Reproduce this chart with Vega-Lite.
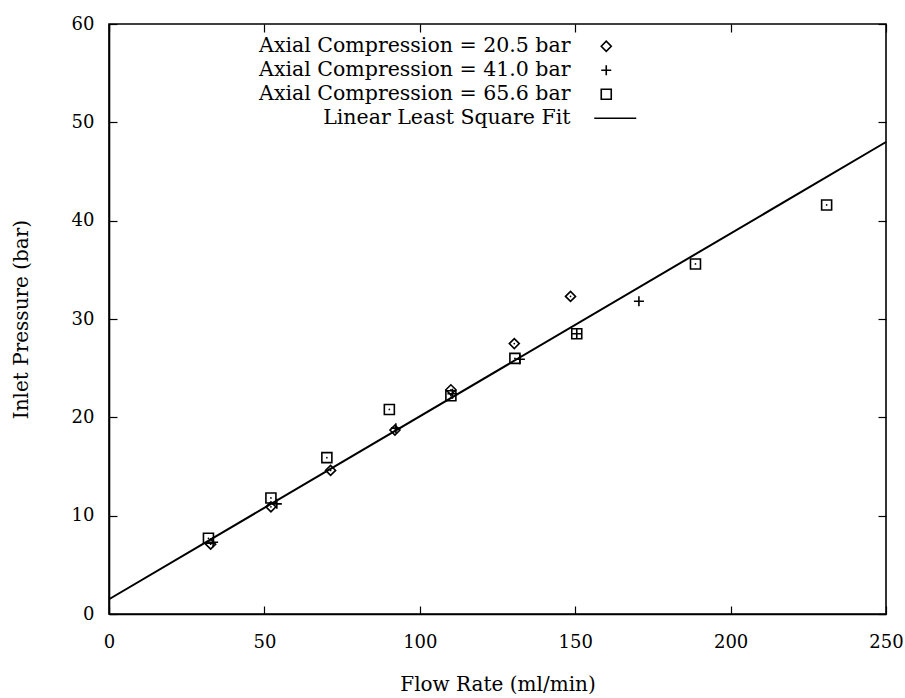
{
  "$schema": "https://vega.github.io/schema/vega-lite/v6.json",
  "width": 777,
  "height": 590,
  "autosize": {"type": "none"},
  "padding": {"left": 109, "top": 24, "right": 19, "bottom": 84},
  "background": "white",
  "config": {
    "view": {"stroke": "black", "strokeWidth": 1.6},
    "font": "DejaVu Serif",
    "axis": {
      "grid": false,
      "domainColor": "black",
      "domainWidth": 1.6,
      "tickColor": "black",
      "tickWidth": 1.2,
      "tickSize": -8,
      "labelFont": "DejaVu Serif",
      "labelFontSize": 18,
      "labelColor": "black",
      "labelFlush": false,
      "labelOverlap": false,
      "titleFont": "DejaVu Serif",
      "titleFontSize": 20,
      "titleFontWeight": "normal",
      "titleColor": "black"
    }
  },
  "datasets": {
    "points": [
      {"flow": 32.7, "pressure": 7.1, "series": "Axial Compression = 20.5 bar"},
      {"flow": 52.1, "pressure": 10.9, "series": "Axial Compression = 20.5 bar"},
      {"flow": 71.3, "pressure": 14.6, "series": "Axial Compression = 20.5 bar"},
      {"flow": 92.0, "pressure": 18.7, "series": "Axial Compression = 20.5 bar"},
      {"flow": 110.0, "pressure": 22.8, "series": "Axial Compression = 20.5 bar"},
      {"flow": 130.4, "pressure": 27.5, "series": "Axial Compression = 20.5 bar"},
      {"flow": 148.5, "pressure": 32.3, "series": "Axial Compression = 20.5 bar"},
      {"flow": 33.5, "pressure": 7.3, "series": "Axial Compression = 41.0 bar"},
      {"flow": 54.0, "pressure": 11.2, "series": "Axial Compression = 41.0 bar"},
      {"flow": 92.3, "pressure": 18.9, "series": "Axial Compression = 41.0 bar"},
      {"flow": 110.5, "pressure": 22.4, "series": "Axial Compression = 41.0 bar"},
      {"flow": 132.2, "pressure": 25.9, "series": "Axial Compression = 41.0 bar"},
      {"flow": 150.5, "pressure": 28.5, "series": "Axial Compression = 41.0 bar"},
      {"flow": 170.5, "pressure": 31.8, "series": "Axial Compression = 41.0 bar"},
      {"flow": 32.0, "pressure": 7.7, "series": "Axial Compression = 65.6 bar"},
      {"flow": 52.1, "pressure": 11.8, "series": "Axial Compression = 65.6 bar"},
      {"flow": 70.1, "pressure": 15.9, "series": "Axial Compression = 65.6 bar"},
      {"flow": 90.2, "pressure": 20.8, "series": "Axial Compression = 65.6 bar"},
      {"flow": 110.0, "pressure": 22.2, "series": "Axial Compression = 65.6 bar"},
      {"flow": 130.6, "pressure": 26.0, "series": "Axial Compression = 65.6 bar"},
      {"flow": 150.5, "pressure": 28.5, "series": "Axial Compression = 65.6 bar"},
      {"flow": 188.7, "pressure": 35.6, "series": "Axial Compression = 65.6 bar"},
      {"flow": 230.9, "pressure": 41.6, "series": "Axial Compression = 65.6 bar"}
    ],
    "fit": [
      {"flow": 0, "pressure": 1.5},
      {"flow": 250, "pressure": 48.0}
    ]
  },
  "layer": [
    {
      "data": {"name": "fit"},
      "mark": {"type": "line", "color": "black", "strokeWidth": 2},
      "encoding": {
        "x": {"field": "flow", "type": "quantitative", "scale": {"domain": [0, 250], "nice": false, "zero": false},
              "axis": {"orient": "bottom", "values": [0, 50, 100, 150, 200, 250], "title": "Flow Rate (ml/min)", "labelPadding": 27, "titlePadding": 23}},
        "y": {"field": "pressure", "type": "quantitative", "scale": {"domain": [0, 60], "nice": false, "zero": false},
              "axis": {"orient": "left", "values": [0, 10, 20, 30, 40, 50, 60], "title": "Inlet Pressure (bar)", "labelPadding": 23, "titlePadding": 40}}
      }
    },
    {
      "data": {"name": "points"},
      "mark": {"type": "point", "filled": false, "size": 100, "stroke": "black", "strokeWidth": 1.6, "opacity": 1},
      "encoding": {
        "x": {"field": "flow", "type": "quantitative",
              "axis": {"orient": "top", "values": [0, 50, 100, 150, 200, 250], "labels": false, "title": null, "domain": false}},
        "y": {"field": "pressure", "type": "quantitative",
              "axis": {"orient": "right", "values": [0, 10, 20, 30, 40, 50, 60], "labels": false, "title": null, "domain": false}},
        "shape": {
          "field": "series",
          "type": "nominal",
          "scale": {
            "domain": ["Axial Compression = 20.5 bar", "Axial Compression = 41.0 bar", "Axial Compression = 65.6 bar", "Linear Least Square Fit"],
            "range": ["diamond", "M-1,0H1M0,-1V1", "square", "M-2.4,0H6"]
          },
          "legend": {
            "orient": "none",
            "legendX": 487,
            "legendY": 12,
            "title": null,
            "labelFont": "DejaVu Serif",
            "labelFontSize": 20.5,
            "labelColor": "black",
            "labelAlign": "right",
            "labelOffset": -46,
            "labelLimit": 0,
            "symbolSize": 100,
            "symbolStrokeColor": "black",
            "symbolStrokeWidth": 1.6,
            "symbolOpacity": 1,
            "rowPadding": 3
          }
        }
      }
    },
    {
      "data": {"name": "points"},
      "transform": [{"filter": "datum.series != 'Axial Compression = 41.0 bar'"}],
      "mark": {"type": "point", "shape": "circle", "filled": true, "size": 3, "color": "black", "opacity": 1},
      "encoding": {
        "x": {"field": "flow", "type": "quantitative", "axis": null},
        "y": {"field": "pressure", "type": "quantitative", "axis": null}
      }
    }
  ],
  "resolve": {"axis": {"x": "independent", "y": "independent"}}
}
